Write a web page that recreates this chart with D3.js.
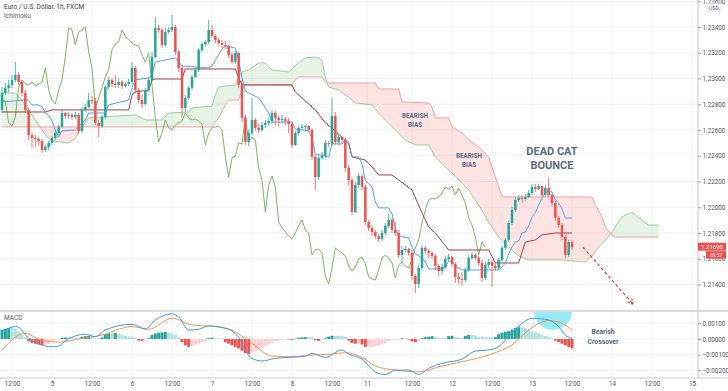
<!DOCTYPE html>
<html><head><meta charset="utf-8">
<script src="https://cdn.jsdelivr.net/npm/d3@7"></script>
<style>body{margin:0;background:#fff;}svg{display:block;font-family:Roboto,"Liberation Sans",sans-serif;}</style>
</head><body><svg id="c" width="728" height="391"></svg>
<script>
// ---------------- DATA ----------------
const firstOpen = 1.22756;
const closes = [
1.22888,1.22927,1.22950,1.22989,1.23027,1.22973,1.22888,1.22756,1.22561,1.22538,
1.22530,1.22515,1.22445,1.22468,1.22499,1.22538,1.22577,1.22624,1.22732,1.22709,
1.22717,1.22701,1.22717,1.22593,1.22756,1.22779,1.22833,1.22826,1.22655,1.22631,
1.22701,1.22934,1.22989,1.22958,1.22950,1.22973,1.22942,1.22958,1.22973,1.23082,
1.22911,1.22833,1.22802,1.22911,1.22989,1.23167,1.23393,1.23377,1.23261,1.23361,
1.23377,1.23400,1.23206,1.23082,1.22771,1.22849,1.22927,1.23012,1.23066,1.23222,
1.23268,1.23284,1.23377,1.23330,1.23299,1.23276,1.23261,1.23253,1.23183,1.23128,
1.23198,1.22950,1.22694,1.22507,1.22577,1.22678,1.22616,1.22600,1.22639,1.22655,
1.22670,1.22732,1.22694,1.22678,1.22686,1.22670,1.22647,1.22484,1.22577,1.22616,
1.22624,1.22631,1.22600,1.22391,1.22235,1.22383,1.22398,1.22499,1.22492,1.22709,
1.22507,1.22546,1.22523,1.22305,1.22212,1.21963,1.22173,1.22243,1.22158,1.21886,
1.21839,1.21808,1.21777,1.21754,1.21800,1.21855,1.21901,1.21824,1.21800,1.21629,
1.21668,1.21676,1.21645,1.21466,1.21404,1.21528,1.21684,1.21661,1.21645,1.21622,
1.21544,1.21505,1.21536,1.21598,1.21614,1.21560,1.21459,1.21443,1.21435,1.21513,
1.21606,1.21629,1.21606,1.21567,1.21451,1.21552,1.21575,1.21544,1.21528,1.21591,
1.21684,1.21746,1.21878,1.21979,1.22057,1.22072,1.22064,1.22080,1.22111,1.22158,
1.22142,1.22165,1.22095,1.22150,1.22095,1.22033,1.21917,1.21862,1.21769,1.21629,
1.21730,1.21690];
const highs = [
1.22934,1.22965,1.22989,1.23027,1.23128,1.23051,1.22989,1.22911,1.22771,1.22577,
1.22561,1.22546,1.22530,1.22484,1.22515,1.22554,1.22593,1.22639,1.22756,1.22740,
1.22740,1.22732,1.22740,1.22732,1.22779,1.22802,1.22888,1.22864,1.22849,1.22678,
1.22717,1.22950,1.23012,1.23004,1.23027,1.23004,1.22989,1.22973,1.22996,1.23128,
1.23097,1.22927,1.22872,1.22927,1.23012,1.23206,1.23478,1.23416,1.23393,1.23393,
1.23400,1.23494,1.23416,1.23222,1.23105,1.22872,1.22942,1.23027,1.23082,1.23237,
1.23284,1.23299,1.23455,1.23416,1.23346,1.23315,1.23299,1.23292,1.23261,1.23206,
1.23214,1.23206,1.22989,1.22717,1.22600,1.22849,1.22694,1.22647,1.22662,1.22678,
1.22694,1.22756,1.22748,1.22709,1.22717,1.22701,1.22694,1.22662,1.22593,1.22631,
1.22647,1.22639,1.22639,1.22616,1.22406,1.22406,1.22429,1.22523,1.22515,1.22849,
1.22740,1.22569,1.22554,1.22538,1.22328,1.22228,1.22196,1.22266,1.22259,1.22173,
1.21901,1.21862,1.21824,1.21793,1.21824,1.21878,1.21948,1.21917,1.21886,1.21824,
1.21699,1.21699,1.21684,1.21668,1.21482,1.21552,1.21707,1.21699,1.21676,1.21661,
1.21637,1.21560,1.21560,1.21622,1.21637,1.21622,1.21575,1.21490,1.21497,1.21528,
1.21629,1.21653,1.21645,1.21622,1.21591,1.21575,1.21598,1.21591,1.21567,1.21606,
1.21699,1.21761,1.21894,1.22002,1.22080,1.22095,1.22095,1.22103,1.22134,1.22181,
1.22181,1.22181,1.22165,1.22173,1.22228,1.22111,1.22049,1.21932,1.21878,1.21785,
1.21746,1.21746];
const lows = [
1.22732,1.22872,1.22895,1.22927,1.22973,1.22950,1.22864,1.22732,1.22523,1.22461,
1.22468,1.22476,1.22422,1.22429,1.22445,1.22484,1.22523,1.22561,1.22616,1.22686,
1.22686,1.22678,1.22686,1.22569,1.22577,1.22740,1.22771,1.22802,1.22639,1.22546,
1.22616,1.22686,1.22919,1.22934,1.22927,1.22927,1.22919,1.22927,1.22942,1.22958,
1.22888,1.22810,1.22771,1.22795,1.22895,1.22973,1.23160,1.23354,1.23237,1.23245,
1.23346,1.23361,1.23183,1.23051,1.22694,1.22740,1.22833,1.22911,1.23004,1.23051,
1.23206,1.23253,1.23268,1.23315,1.23276,1.23261,1.23237,1.23229,1.23160,1.23113,
1.23113,1.22927,1.22662,1.22484,1.22476,1.22561,1.22593,1.22577,1.22585,1.22616,
1.22631,1.22647,1.22639,1.22631,1.22647,1.22639,1.22577,1.22461,1.22476,1.22561,
1.22600,1.22600,1.22585,1.22367,1.22134,1.22212,1.22367,1.22383,1.22468,1.22476,
1.22484,1.22484,1.22499,1.22274,1.22173,1.21940,1.21956,1.22150,1.22134,1.21862,
1.21816,1.21777,1.21754,1.21730,1.21738,1.21785,1.21839,1.21800,1.21777,1.21606,
1.21575,1.21653,1.21622,1.21435,1.21334,1.21373,1.21513,1.21637,1.21606,1.21598,
1.21513,1.21466,1.21474,1.21521,1.21583,1.21536,1.21412,1.21404,1.21396,1.21420,
1.21497,1.21591,1.21591,1.21544,1.21420,1.21435,1.21528,1.21381,1.21505,1.21513,
1.21575,1.21668,1.21730,1.21862,1.21963,1.22041,1.22041,1.22049,1.22072,1.22095,
1.22119,1.22134,1.22080,1.22080,1.22080,1.22010,1.21894,1.21839,1.21746,1.21606,
1.21614,1.21668];

// Ichimoku lines: [bar index, price]
const tenkan = [[0,1.22818],[7,1.22833],[8,1.22826],[9,1.22795],[11,1.22795],[12,1.22779],[13,1.22740],[14,1.22709],[15,1.22670],[16,1.22600],[17,1.22546],[18,1.22593],[22,1.22600],[23,1.22624],[24,1.22655],[25,1.22678],[26,1.22732],[31,1.22732],[32,1.22795],[38,1.22833],[39,1.22927],[40,1.22989],[44,1.23004],[45,1.23027],[46,1.23128],[52,1.23160],[54,1.23097],[62,1.23082],[63,1.23097],[64,1.23144],[65,1.23183],[66,1.23229],[67,1.23253],[70,1.23237],[71,1.23144],[72,1.23004],[73,1.22903],[74,1.22888],[77,1.22849],[80,1.22732],[81,1.22662],[87,1.22662],[88,1.22608],[92,1.22593],[93,1.22538],[94,1.22414],[98,1.22391],[99,1.22492],[102,1.22492],[103,1.22530],[104,1.22507],[105,1.22391],[107,1.22391],[108,1.22336],[109,1.22212],[110,1.22181],[111,1.22158],[112,1.22041],[113,1.21995],[116,1.21995],[117,1.21948],[118,1.21839],[119,1.21777],[122,1.21761],[123,1.21692],[124,1.21637],[125,1.21622],[126,1.21606],[127,1.21575],[128,1.21521],[132,1.21521],[133,1.21536],[134,1.21583],[135,1.21583],[136,1.21544],[137,1.21528],[138,1.21513],[149,1.21513],[150,1.21536],[151,1.21567],[152,1.21637],[153,1.21692],[154,1.21730],[155,1.21738],[156,1.21800],[157,1.21808],[158,1.21855],[159,1.21925],[160,1.21956],[161,1.22018],[162,1.22072],[163,1.22111],[164,1.22134],[165,1.22119],[166,1.22057],[167,1.22033],[168,1.21987],[169,1.21917],[171,1.21917]];
const kijun = [[0,1.22740],[13,1.22740],[15,1.22756],[38,1.22756],[39,1.22872],[40,1.22895],[44,1.22911],[45,1.22989],[46,1.22996],[54,1.22996],[55,1.23074],[70,1.23074],[71,1.23004],[72,1.22950],[87,1.22950],[88,1.22895],[94,1.22756],[97,1.22655],[99,1.22616],[104,1.22492],[105,1.22391],[109,1.22367],[111,1.22313],[113,1.22251],[117,1.22251],[119,1.22212],[123,1.22134],[126,1.21956],[128,1.21847],[130,1.21800],[134,1.21668],[146,1.21668],[148,1.21567],[155,1.21567],[157,1.21730],[160,1.21746],[162,1.21785],[166,1.21800],[171,1.21800]];
const senkouA = [[0,1.22888],[4,1.22888],[6,1.22833],[8,1.22756],[11,1.22639],[13,1.22561],[15,1.22515],[20,1.22499],[22,1.22538],[24,1.22624],[26,1.22694],[30,1.22701],[40,1.22717],[43,1.22678],[48,1.22678],[50,1.22732],[56,1.22740],[57,1.22771],[63,1.22787],[64,1.22872],[65,1.22934],[70,1.22950],[71,1.23012],[72,1.23051],[74,1.23066],[77,1.23121],[79,1.23121],[81,1.23066],[86,1.23051],[89,1.23121],[91,1.23160],[94,1.23167],[96,1.23144],[97,1.23004],[98,1.22934],[101,1.22911],[104,1.22857],[106,1.22810],[111,1.22795],[113,1.22732],[116,1.22655],[119,1.22577],[121,1.22523],[124,1.22484],[128,1.22484],[130,1.22391],[133,1.22313],[135,1.22266],[138,1.22189],[140,1.22134],[143,1.22018],[146,1.21886],[149,1.21769],[152,1.21692],[155,1.21622],[158,1.21591],[168,1.21591],[175,1.21575],[177,1.21622],[179,1.21692],[181,1.21746],[183,1.21808],[186,1.21925],[189,1.21963],[191,1.21917],[194,1.21862],[197,1.21862]];
const senkouB = [[0,1.22624],[63,1.22624],[65,1.22694],[67,1.22795],[68,1.22833],[71,1.22833],[72,1.22911],[73,1.22950],[87,1.22950],[88,1.22989],[89,1.23012],[96,1.23012],[97,1.22973],[98,1.22965],[112,1.22965],[113,1.22919],[119,1.22919],[120,1.22818],[128,1.22810],[129,1.22779],[130,1.22694],[134,1.22694],[135,1.22624],[138,1.22577],[140,1.22523],[143,1.22468],[146,1.22391],[148,1.22235],[150,1.22080],[177,1.22080],[178,1.22018],[180,1.21925],[181,1.21847],[183,1.21785],[184,1.21769],[197,1.21769]];
const chikouShift = 26;

// MACD
const macdLine = [[0,0.00047],[4,0.00079],[5,0.00074],[8,0.00004],[12,-0.00038],[14,-0.00049],[17,-0.00045],[19,-0.0001],[25,0.0003],[28,0.00015],[31,0.00057],[39,0.00094],[43,0.00064],[46,0.0012],[51,0.0016],[53,0.0014],[56,0.00057],[59,0.00062],[62,0.00083],[67,0.00068],[71,0.0001],[73,-0.00074],[75,-0.00123],[78,-0.0014],[82,-0.00123],[86,-0.00117],[91,-0.00109],[93,-0.00091],[97,-0.00117],[102,-0.0007],[104,-0.00096],[108,-0.00128],[112,-0.0021],[115,-0.00226],[118,-0.00198],[122,-0.00198],[125,-0.00226],[128,-0.00187],[132,-0.00155],[138,-0.00128],[142,-0.00077],[146,-0.0007],[149,-0.00049],[152,0.00015],[156,0.001],[159,0.00132],[164,0.00121],[167,0.00079],[169,0.00026],[171,0.0]];
const signalLine = [[0,-0.0007],[7,0.00036],[11,-0.00002],[17,-0.0002],[24,0.00004],[29,0.0002],[39,0.00079],[44,0.00062],[51,0.00132],[57,0.00089],[64,0.00079],[69,0.00057],[75,-0.00028],[81,-0.00109],[87,-0.00113],[93,-0.00102],[99,-0.00096],[103,-0.00087],[108,-0.00117],[112,-0.00172],[118,-0.00198],[125,-0.00209],[132,-0.00172],[138,-0.00145],[148,-0.00087],[153,-0.00038],[158,0.00057],[164,0.00117],[168,0.001],[171,0.00057]];
const histogram = [
0.00060,0.00065,0.00070,0.00070,0.00065,0.00045,0.00025,0.00010,-0.00015,-0.00025,
-0.00030,-0.00035,-0.00040,-0.00038,-0.00030,-0.00020,-0.00010,-0.00005,0.00008,0.00010,
0.00010,0.00010,0.00010,0.00008,0.00015,0.00018,0.00020,0.00018,0.00005,0.00005,
0.00010,0.00030,0.00035,0.00035,0.00038,0.00030,0.00025,0.00020,0.00015,0.00015,
0.00010,-0.00010,-0.00012,-0.00005,0.00005,0.00025,0.00035,0.00040,0.00042,0.00045,
0.00040,0.00035,0.00025,0.00010,-0.00020,-0.00040,-0.00050,-0.00045,-0.00035,-0.00028,
-0.00020,-0.00012,0.00005,0.00008,0.00006,0.00005,0.00002,-0.00020,-0.00030,-0.00040,
-0.00050,-0.00060,-0.00075,-0.00090,-0.00095,-0.00085,-0.00075,-0.00065,-0.00055,-0.00045,
-0.00035,-0.00025,-0.00015,-0.00010,-0.00005,-0.00002,-0.00003,-0.00005,0.00002,0.00008,
0.00010,0.00012,0.00012,0.00012,-0.00008,-0.00012,-0.00005,0.00005,0.00015,0.00020,
0.00020,0.00020,0.00020,0.00015,-0.00010,-0.00025,-0.00030,-0.00030,-0.00035,-0.00050,
-0.00050,-0.00050,-0.00045,-0.00040,-0.00030,-0.00025,-0.00015,-0.00008,-0.00003,-0.00002,
0.00005,0.00002,-0.00003,-0.00015,-0.00020,-0.00015,0.00005,0.00012,0.00015,0.00018,
0.00015,0.00010,0.00008,0.00008,0.00018,0.00020,0.00012,0.00010,0.00008,0.00020,
0.00025,0.00025,0.00022,0.00015,0.00015,0.00012,0.00012,0.00010,0.00012,0.00030,
0.00040,0.00045,0.00050,0.00060,0.00070,0.00075,0.00075,0.00070,0.00060,0.00050,
0.00042,0.00035,0.00028,0.00020,0.00012,0.00005,-0.00010,-0.00020,-0.00030,-0.00040,
-0.00050,-0.00060];

// Axes
const priceTicks = [1.214,1.216,1.218,1.220,1.222,1.224,1.226,1.228,1.230,1.232,1.234,1.236];
const macdTicks = [0.001,0,-0.001,-0.002];
const timeTickIdx = [3,15,27,39,51,63,75,87,99,109.5,123,135,147,159,171,183,195,207];
const timeTickLabels = ["12:00","5","12:00","6","12:00","7","12:00","8","12:00","11","12:00","12","12:00","13","12:00","14","12:00","15"];
const lastPrice = 1.21690, countdown = "18:57";

// Annotations (bar index, value)
const arrowFrom = [174.3, 1.21690], arrowTo = [189.3, 1.21248];
const mainNotes = [
 {t:"DEAD CAT", i:165, v:1.22406, size:11},
 {t:"BOUNCE", i:165, v:1.22298, size:11},
 {t:"BEARISH", i:123.9, v:1.22694, size:6.3},
 {t:"BIAS", i:123.9, v:1.22624, size:6.3},
 {t:"BEARISH", i:140.1, v:1.22383, size:6.3},
 {t:"BIAS", i:140.1, v:1.22313, size:6.3}];
const macdNotes = [{t:"Bearish", i:180.3, v:0.00029},{t:"Crossover", i:180.3, v:-0.00035}];
const crossoverCircle = {i:165.3, v:0.00178};

// ---------------- DRAW ----------------
const svg = d3.select("#c");
const axisX = 698, mainBot = 311, macdTop = 311, macdBot = 378;
const x = d3.scaleLinear().domain([0,207]).range([2,692]);
const y = d3.scaleLinear().domain([1.211942,1.236097]).range([mainBot,0]);
const ym = d3.scaleLinear().domain([-0.002484,0.001783]).range([macdBot,macdTop]);
const grid = "#eef1f6", txt = "#50535e", note = "#5a6b84";

const defs = svg.append("defs");
defs.append("clipPath").attr("id","mainClip").append("rect").attr("x",0).attr("y",0).attr("width",axisX).attr("height",mainBot);
defs.append("clipPath").attr("id","macdClip").append("rect").attr("x",0).attr("y",macdTop+1).attr("width",axisX).attr("height",macdBot-macdTop-1);

// gridlines
const gG = svg.append("g");
timeTickIdx.forEach(t=>{
  gG.append("line").attr("x1",x(t)).attr("x2",x(t)).attr("y1",0).attr("y2",macdBot).attr("stroke",grid).attr("stroke-width",1);
});
priceTicks.forEach(p=>{
  gG.append("line").attr("x1",0).attr("x2",axisX).attr("y1",y(p)).attr("y2",y(p)).attr("stroke",grid);
});
macdTicks.forEach(v=>{
  gG.append("line").attr("x1",0).attr("x2",axisX).attr("y1",ym(v)).attr("y2",ym(v)).attr("stroke",grid);
});

const main = svg.append("g").attr("clip-path","url(#mainClip)");

// cloud via clip paths
const areaFrom = (data, base) => d3.area().x(d=>x(d[0])).y0(base).y1(d=>y(d[1]))(data);
defs.append("clipPath").attr("id","belowA").append("path").attr("d",areaFrom(senkouA, mainBot));
defs.append("clipPath").attr("id","aboveA").append("path").attr("d",areaFrom(senkouA, 0));
main.append("g").attr("clip-path","url(#belowA)").append("path").attr("d",areaFrom(senkouB,0)).attr("fill","rgba(67,160,71,0.13)");
main.append("g").attr("clip-path","url(#aboveA)").append("path").attr("d",areaFrom(senkouB,mainBot)).attr("fill","rgba(244,67,54,0.14)");

const line = d3.line().x(d=>x(d[0])).y(d=>y(d[1]));
main.append("path").attr("d",line(senkouA)).attr("fill","none").attr("stroke","#8fc98f").attr("stroke-width",0.9);
main.append("path").attr("d",line(senkouB)).attr("fill","none").attr("stroke","#ee9a9a").attr("stroke-width",0.9);
// chikou: closes shifted back
const chikou = closes.map((c,i)=>[i-chikouShift,c]).filter(d=>d[0]>=0);
main.append("path").attr("d",line(chikou)).attr("fill","none").attr("stroke","#6fae4f").attr("stroke-width",0.9);
main.append("path").attr("d",line(kijun)).attr("fill","none").attr("stroke","#9a2a33").attr("stroke-width",0.9);
main.append("path").attr("d",line(tenkan)).attr("fill","none").attr("stroke","#3d9be9").attr("stroke-width",0.9);

// candles
const up="#26a69a", dn="#ef5350";
const candles = closes.map((c,i)=>({i, o: i===0?firstOpen:closes[i-1], c, h:highs[i], l:lows[i]}));
const cg = main.append("g");
candles.forEach(d=>{
  const col = d.c>=d.o?up:dn;
  cg.append("line").attr("x1",x(d.i)).attr("x2",x(d.i)).attr("y1",y(d.h)).attr("y2",y(d.l)).attr("stroke",col).attr("stroke-width",0.8);
  const top=y(Math.max(d.o,d.c)), bot=y(Math.min(d.o,d.c));
  cg.append("rect").attr("x",x(d.i)-1.25).attr("width",2.5).attr("y",top).attr("height",Math.max(0.8,bot-top)).attr("fill",col);
});

// dashed arrow
const ax1=x(arrowFrom[0]), ay1=y(arrowFrom[1]), ax2=x(arrowTo[0]), ay2=y(arrowTo[1]);
main.append("line").attr("x1",ax1).attr("y1",ay1).attr("x2",ax2).attr("y2",ay2).attr("stroke","#f03a3a").attr("stroke-width",1.2).attr("stroke-dasharray","3,2.5");
const ang = Math.atan2(ay2-ay1, ax2-ax1);
[0.5,-0.5].forEach(a=>{
  main.append("line").attr("x1",ax2).attr("y1",ay2).attr("x2",ax2-6*Math.cos(ang+a)).attr("y2",ay2-6*Math.sin(ang+a)).attr("stroke","#f03a3a").attr("stroke-width",1.2).attr("stroke-dasharray","2,1.5");
});

// notes
mainNotes.forEach(n=>{
  main.append("text").attr("x",x(n.i)).attr("y",y(n.v)).attr("text-anchor","middle").attr("font-size",n.size).attr("font-weight","bold").attr("fill",note).text(n.t);
});

// MACD pane
const mp = svg.append("g").attr("clip-path","url(#macdClip)");
mp.append("circle").attr("cx",x(crossoverCircle.i)).attr("cy",ym(crossoverCircle.v)).attr("r",19).attr("fill","rgba(0,205,225,0.4)");
histogram.forEach((v,i)=>{
  const prev = i===0?v:histogram[i-1];
  let col;
  if(v>=0) col = v>prev?"#26a69a":"#b2dfdb"; else col = v<prev?"#ef5350":"#ffcdd2";
  if(i===0) col = v>=0?"#26a69a":"#ef5350";
  mp.append("rect").attr("x",x(i)-1.5).attr("width",3).attr("y",Math.min(ym(v),ym(0))).attr("height",Math.abs(ym(v)-ym(0))).attr("fill",col);
});
const mline = d3.line().x(d=>x(d[0])).y(d=>ym(d[1])).curve(d3.curveMonotoneX);
mp.append("path").attr("d",mline(signalLine)).attr("fill","none").attr("stroke","#f7954a").attr("stroke-width",1);
mp.append("path").attr("d",mline(macdLine)).attr("fill","none").attr("stroke","#3d9be9").attr("stroke-width",1);
macdNotes.forEach(n=>{
  svg.append("text").attr("x",x(n.i)).attr("y",ym(n.v)).attr("text-anchor","middle").attr("font-size",6.8).attr("font-weight","bold").attr("fill",note).text(n.t);
});

// frame lines
svg.append("line").attr("x1",0).attr("x2",728).attr("y1",mainBot).attr("y2",mainBot).attr("stroke","#b8bbc2").attr("stroke-width",1.2);
svg.append("line").attr("x1",0).attr("x2",728).attr("y1",macdBot).attr("y2",macdBot).attr("stroke","#c4c7cd");
svg.append("line").attr("x1",axisX).attr("x2",axisX).attr("y1",0).attr("y2",macdBot).attr("stroke","#c4c7cd");

// axes
const styleAxis = g=>{g.select(".domain").remove(); g.selectAll("text").attr("fill",txt).attr("font-size",6.3).attr("font-family","Roboto, sans-serif"); g.selectAll("line").attr("stroke","#9a9da5");};
svg.append("g").attr("transform",`translate(${axisX},0)`).call(d3.axisRight(y).tickValues(priceTicks).tickFormat(d3.format(".5f")).tickSize(3).tickPadding(1.5)).call(styleAxis);
svg.append("g").attr("transform",`translate(${axisX},0)`).call(d3.axisRight(ym).tickValues(macdTicks).tickFormat(d3.format(".5f")).tickSize(3).tickPadding(1.5)).call(styleAxis);
svg.append("g").attr("transform",`translate(0,${macdBot})`).call(d3.axisBottom(x).tickValues(timeTickIdx).tickFormat((d,i)=>timeTickLabels[i]).tickSize(0).tickPadding(4)).call(styleAxis);

// USD box
svg.append("rect").attr("x",707).attr("y",3.5).attr("width",14).attr("height",8).attr("fill","#fff").attr("stroke","#d5d7dc").attr("stroke-width",0.6);
svg.append("text").attr("x",714).attr("y",9.6).attr("text-anchor","middle").attr("font-size",5.5).attr("fill",txt).text("USD");

// last price label
const ly = y(lastPrice);
svg.append("rect").attr("x",axisX).attr("y",ly-4.5).attr("width",28).attr("height",8).attr("fill","#ef4f4f");
svg.append("text").attr("x",axisX+14).attr("y",ly+1.8).attr("text-anchor","middle").attr("font-size",6).attr("fill","#fff").text(d3.format(".5f")(lastPrice));
svg.append("rect").attr("x",706).attr("y",ly+4).attr("width",20).attr("height",7.5).attr("fill","#ef4f4f");
svg.append("text").attr("x",716).attr("y",ly+10).attr("text-anchor","middle").attr("font-size",5.3).attr("fill","#fff").text(countdown);

// titles
svg.append("text").attr("x",4).attr("y",9).attr("font-size",6.6).attr("fill","#3d4049").text("Euro / U.S. Dollar, 1h, FXCM");
svg.append("text").attr("x",4).attr("y",17.5).attr("font-size",6.6).attr("fill","#5d606b").text("Ichimoku");
svg.append("text").attr("x",4).attr("y",320).attr("font-size",6.6).attr("fill","#5d606b").text("MACD");
</script>
</body></html>
